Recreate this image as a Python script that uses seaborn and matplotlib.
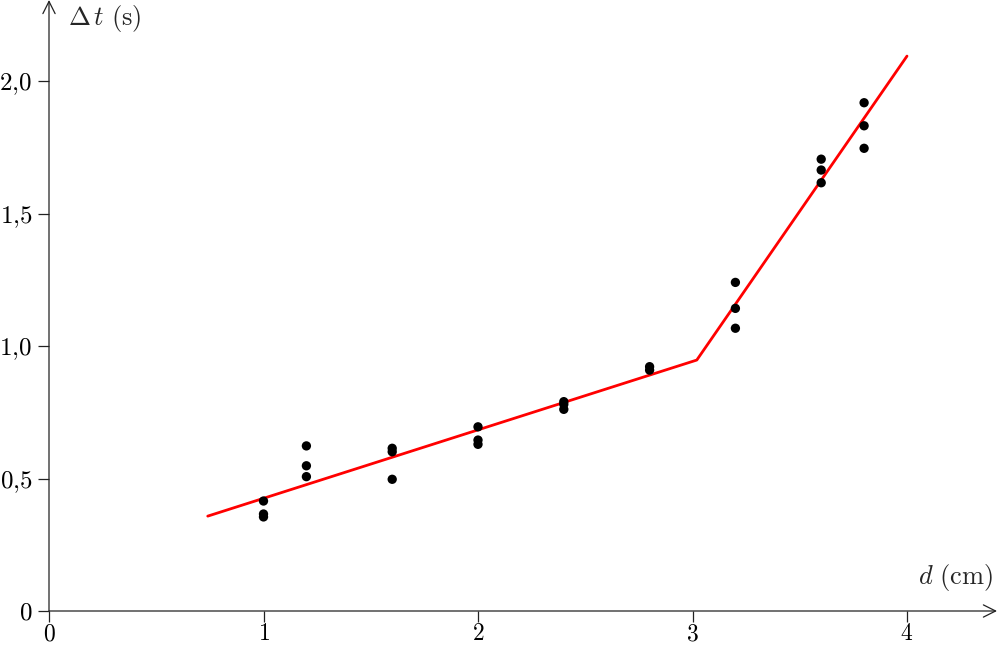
import numpy as np
import pandas as pd
import matplotlib
matplotlib.use("Agg")
import matplotlib.pyplot as plt
import seaborn as sns

# --- data ---
d_points = [1.0, 1.0, 1.0, 1.2, 1.2, 1.2, 1.6, 1.6, 1.6, 2.0, 2.0, 2.0,
            2.4, 2.4, 2.4, 2.8, 2.8, 3.2, 3.2, 3.2, 3.6, 3.6, 3.6, 3.8, 3.8, 3.8]
t_points = [0.415, 0.366, 0.355, 0.623, 0.548, 0.507, 0.614, 0.601, 0.497,
            0.695, 0.645, 0.629, 0.790, 0.780, 0.761, 0.922, 0.909,
            1.240, 1.142, 1.067, 1.705, 1.664, 1.616, 1.918, 1.831, 1.746]
fit_d = [0.74, 3.02, 4.0]
fit_t = [0.358, 0.947, 2.094]
x_ticks = [0, 1, 2, 3, 4]
x_tick_labels = ["0", "1", "2", "3", "4"]
y_ticks = [0, 0.5, 1.0, 1.5, 2.0]
y_tick_labels = ["0", "0,5", "1,0", "1,5", "2,0"]

sns.set_theme(style="white")
plt.rcParams["mathtext.fontset"] = "cm"
plt.rcParams["font.family"] = ["DejaVu Serif"]

fig = plt.figure(figsize=(10, 6.45), dpi=100)
ax = fig.add_axes([0.049, 34 / 645, 0.948, 611 / 645])

df = pd.DataFrame({"d": d_points, "t": t_points})
fit = pd.DataFrame({"d": fit_d, "t": fit_t})
sns.lineplot(data=fit, x="d", y="t", color="#ff0000", linewidth=2, ax=ax, sort=False)
sns.scatterplot(data=df, x="d", y="t", color="black", s=45, edgecolor="none", ax=ax, zorder=3)

xmax = 948 / 214.5
ymax = 611 / 265.0
ax.set_xlim(0, xmax)
ax.set_ylim(0, ymax)
for s in ax.spines.values():
    s.set_visible(False)

axis_col = "#222222"
ax.annotate("", xy=(xmax, 0), xytext=(0, 0), xycoords="data",
            arrowprops=dict(arrowstyle="->", color=axis_col, lw=0.9,
                            mutation_scale=22, shrinkA=0, shrinkB=0),
            annotation_clip=False)
ax.annotate("", xy=(0, ymax), xytext=(0, 0), xycoords="data",
            arrowprops=dict(arrowstyle="->", color=axis_col, lw=0.9,
                            mutation_scale=22, shrinkA=0, shrinkB=0),
            annotation_clip=False)

ax.set_xticks(x_ticks)
ax.set_xticklabels(["$" + l + "$" for l in x_tick_labels])
ax.set_yticks(y_ticks)
ax.set_yticklabels(["$" + l.replace(",", "{,}") + "$" for l in y_tick_labels])
ax.tick_params(axis="both", direction="out", length=8, width=0.9, color=axis_col,
               labelsize=18, labelcolor="black", bottom=True, left=True)
ax.tick_params(axis="y", pad=4)
ax.tick_params(axis="x", pad=0, labelsize=17)
ax.set_xlabel("")
ax.set_ylabel("")
ax.grid(False)

ax.text(0.09, ymax - 0.07, r"$\Delta\,t\ \mathrm{(s)}$", fontsize=19, ha="left", va="center")
ax.text(xmax - 0.02, 0.125, r"$d\ \mathrm{(cm)}$", fontsize=19, ha="right", va="center")

fig.savefig("out.png", dpi=100)
